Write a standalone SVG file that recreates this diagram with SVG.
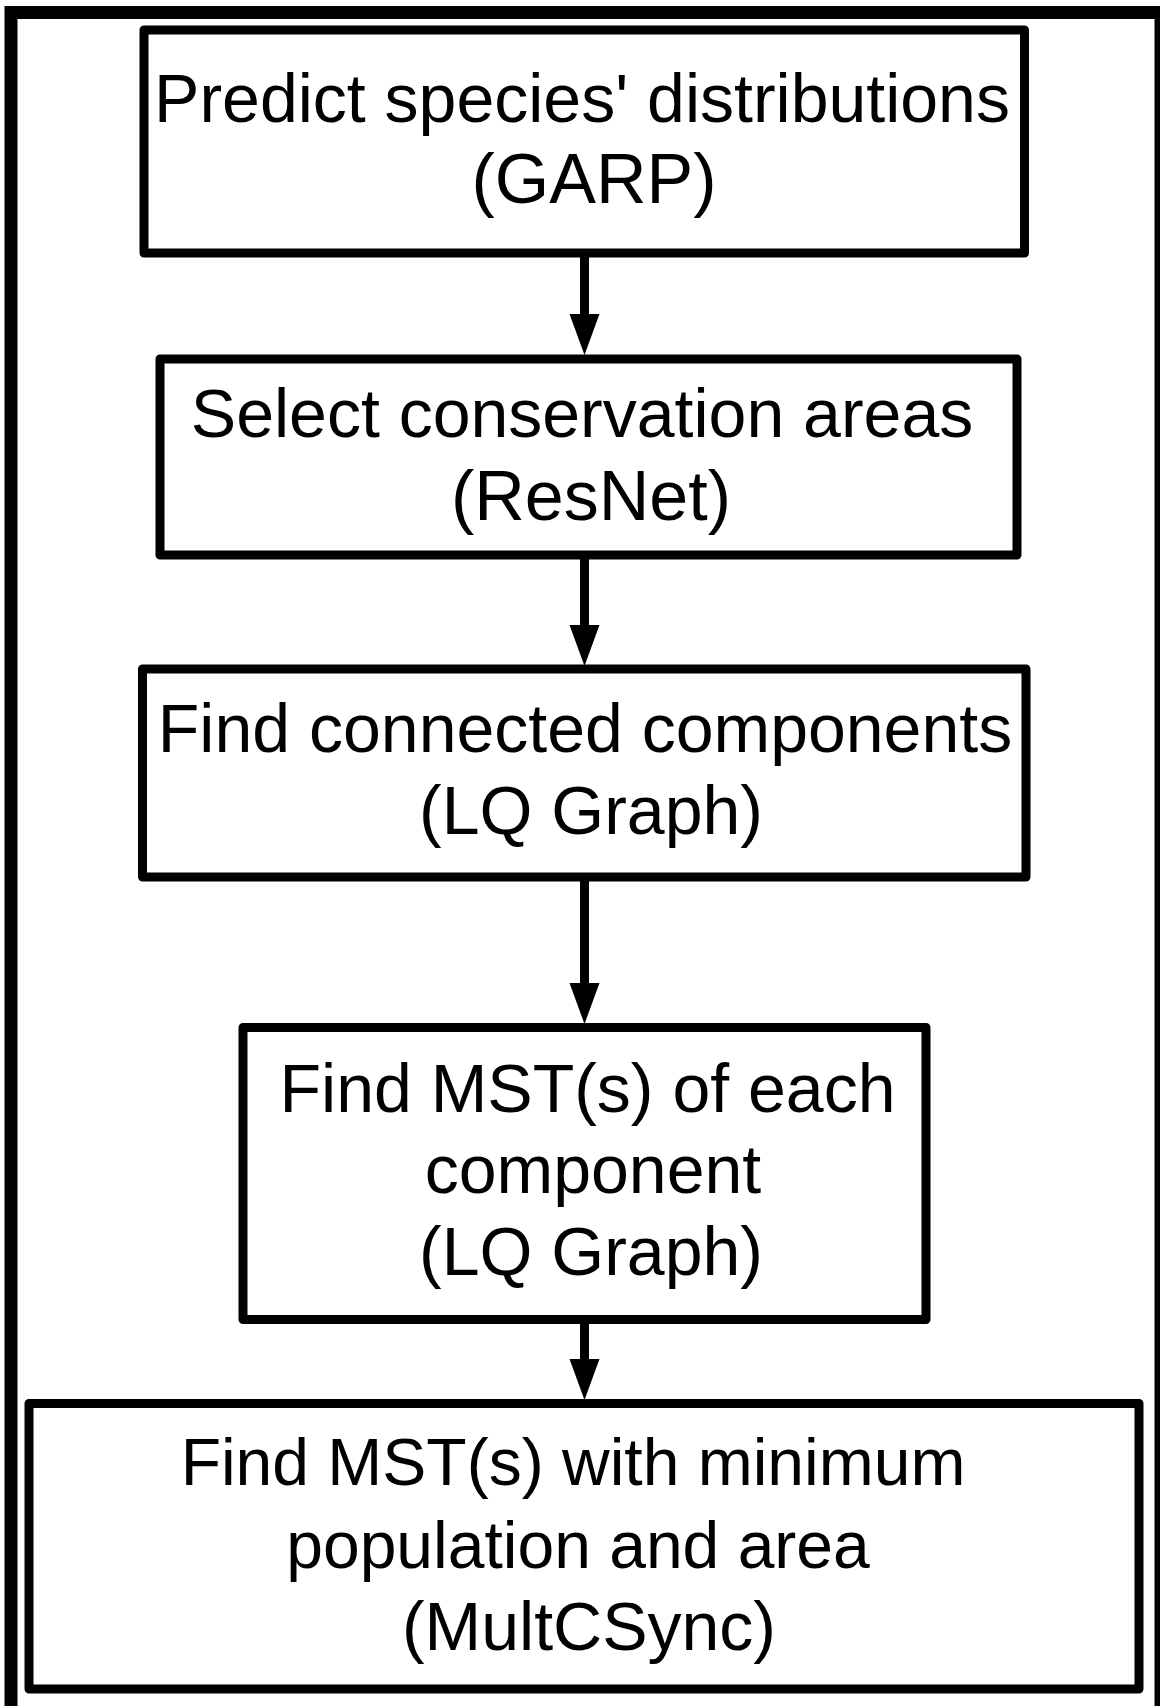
<svg xmlns="http://www.w3.org/2000/svg" width="1160" height="1706" viewBox="0 0 1160 1706">
<defs>
<style>
.frame{fill:none;stroke:#000;stroke-width:13}
.box{fill:#fff;stroke:#000;stroke-width:9;stroke-linejoin:round}
.lbl{font-family:"Liberation Sans",Arial,sans-serif;font-size:68px;fill:#000;text-anchor:middle}
.par{font-size:70px}
.sm{font-size:66px}
.edge{stroke:#000;stroke-width:9;fill:none}
.head{fill:#000}
</style>
</defs>
<rect width="1160" height="1706" fill="#fff"/>
<rect class="frame" x="11" y="12.5" width="1150" height="1700"/>
<g id="connectors">
<line class="edge" x1="584.5" y1="253" x2="584.5" y2="316"/>
<polygon class="head" points="569.5,314 599.5,314 584.5,355"/>
<line class="edge" x1="584.5" y1="555" x2="584.5" y2="627"/>
<polygon class="head" points="569.5,625 599.5,625 584.5,666"/>
<line class="edge" x1="584.5" y1="877" x2="584.5" y2="985"/>
<polygon class="head" points="569.5,983 599.5,983 584.5,1024"/>
<line class="edge" x1="584.5" y1="1319.5" x2="584.5" y2="1361"/>
<polygon class="head" points="569.5,1359 599.5,1359 584.5,1400"/>
</g>
<g id="n1">
<rect class="box" x="144" y="30" width="880.5" height="223"/>
<text class="lbl" x="582" y="121.7">Predict species' distributions</text>
<text class="lbl par" x="594" y="203.3">(GARP)</text>
</g>
<g id="n2">
<rect class="box" x="160" y="359" width="857" height="196"/>
<text class="lbl" x="582" y="436.7">Select conservation areas</text>
<text class="lbl par" x="591" y="520">(ResNet)</text>
</g>
<g id="n3">
<rect class="box" x="142.5" y="669" width="883.5" height="208"/>
<text class="lbl" x="585" y="751.7">Find connected components</text>
<text class="lbl" x="591" y="834">(LQ Graph)</text>
</g>
<g id="n4">
<rect class="box" x="243" y="1027.5" width="683" height="292"/>
<text class="lbl" x="587.5" y="1111.7">Find MST(s) of each</text>
<text class="lbl" x="593" y="1193.3">component</text>
<text class="lbl" x="591" y="1275">(LQ Graph)</text>
</g>
<g id="n5">
<rect class="box" x="29" y="1403.5" width="1110" height="285.5"/>
<text class="lbl sm" x="573" y="1485">Find MST(s) with minimum</text>
<text class="lbl sm" x="578" y="1568">population and area</text>
<text class="lbl" x="589" y="1650">(MultCSync)</text>
</g>
</svg>
